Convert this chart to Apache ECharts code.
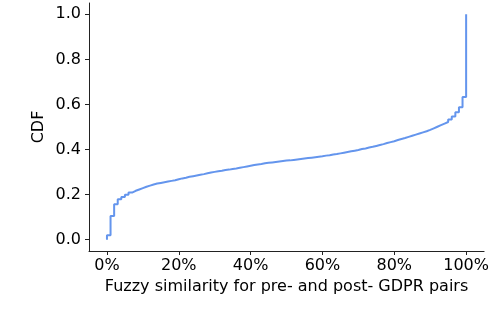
<!DOCTYPE html>
<html>
<head>
<meta charset="utf-8">
<script src="https://cdn.jsdelivr.net/npm/echarts@6/dist/echarts.min.js"></script>
<style>
html,body{margin:0;padding:0;background:#fff;}
#chart{width:492px;height:328px;}
</style>
</head>
<body>
<div id="chart"></div>
<script>
// Fuzzy similarity (%) and CDF values
var similarityPct = [0, 0, 1, 2, 3, 4, 5, 6, 7, 8, 9, 10, 11, 12, 13, 14, 15, 16, 17, 18, 19, 20,
  21, 22, 23, 24, 25, 26, 27, 28, 29, 30, 31, 32, 33, 34, 35, 36, 37, 38, 39, 40,
  41, 42, 43, 44, 45, 46, 47, 48, 49, 50, 51, 52, 53, 54, 55, 56, 57, 58, 59, 60,
  61, 62, 63, 64, 65, 66, 67, 68, 69, 70, 71, 72, 73, 74, 75, 76, 77, 78, 79, 80,
  81, 82, 83, 84, 85, 86, 87, 88, 89, 90, 91, 92, 93, 94, 95, 96, 97, 98, 99, 100, 100];
var cdfValues = [0.0, 0.02, 0.105, 0.157, 0.18, 0.19, 0.2, 0.209, 0.217, 0.223, 0.229, 0.235, 0.240, 0.245, 0.249, 0.252, 0.255, 0.258, 0.261, 0.264, 0.268, 0.272,
  0.275, 0.279, 0.282, 0.285, 0.288, 0.291, 0.295, 0.298, 0.301, 0.304, 0.306, 0.309, 0.311, 0.314, 0.316, 0.319, 0.322, 0.325, 0.328, 0.331,
  0.334, 0.336, 0.339, 0.341, 0.343, 0.345, 0.347, 0.349, 0.351, 0.352, 0.354, 0.356, 0.358, 0.360, 0.362, 0.364, 0.366, 0.368, 0.370, 0.373,
  0.375, 0.378, 0.380, 0.383, 0.386, 0.389, 0.392, 0.395, 0.398, 0.402, 0.405, 0.409, 0.412, 0.416, 0.420, 0.424, 0.429, 0.433, 0.437, 0.442,
  0.447, 0.451, 0.456, 0.461, 0.466, 0.471, 0.476, 0.481, 0.487, 0.494, 0.501, 0.508, 0.515, 0.522, 0.533, 0.547, 0.565, 0.588, 0.633, 0.633, 1.0];
var xTicks = [0, 20, 40, 60, 80, 100];
var yTicks = [0, 0.2, 0.4, 0.6, 0.8, 1.0];

var chart = echarts.init(document.getElementById('chart'), null, {renderer: 'canvas'});
var font = 'DejaVu Sans';
var data = similarityPct.map(function (x, i) { return [x, cdfValues[i]]; });

chart.setOption({
  animation: false,
  backgroundColor: '#ffffff',
  grid: {left: 89, right: 6, top: 3, bottom: 77, containLabel: false},
  xAxis: {
    type: 'value', min: -5, max: 105,
    name: 'Fuzzy similarity for pre- and post- GDPR pairs',
    nameLocation: 'middle', nameGap: 26,
    nameTextStyle: {fontFamily: font, fontSize: 16, color: '#000'},
    splitLine: {show: false},
    axisLine: {show: true, onZero: false, lineStyle: {color: '#222', width: 1}},
    axisTick: {show: true, customValues: xTicks, length: 4, lineStyle: {color: '#222'}},
    axisLabel: {customValues: xTicks, margin: 7, fontFamily: font, fontSize: 16, color: '#000',
      formatter: function (v) { return v + '%'; }}
  },
  yAxis: {
    type: 'value', min: -0.05, max: 1.05,
    name: 'CDF', nameLocation: 'middle', nameGap: 42, nameRotate: 90, nameMoveOverlap: false,
    nameTextStyle: {fontFamily: font, fontSize: 16, color: '#000'},
    splitLine: {show: false},
    axisLine: {show: true, onZero: false, lineStyle: {color: '#222', width: 1}},
    axisTick: {show: true, customValues: yTicks, length: 4, lineStyle: {color: '#222'}},
    axisLabel: {customValues: yTicks, margin: 8, fontFamily: font, fontSize: 16, color: '#000',
      formatter: function (v) { return v.toFixed(1); }}
  },
  series: [{
    type: 'line', step: 'end', data: data, symbol: 'none',
    lineStyle: {color: '#6495ED', width: 2}
  }]
});
</script>
</body>
</html>
